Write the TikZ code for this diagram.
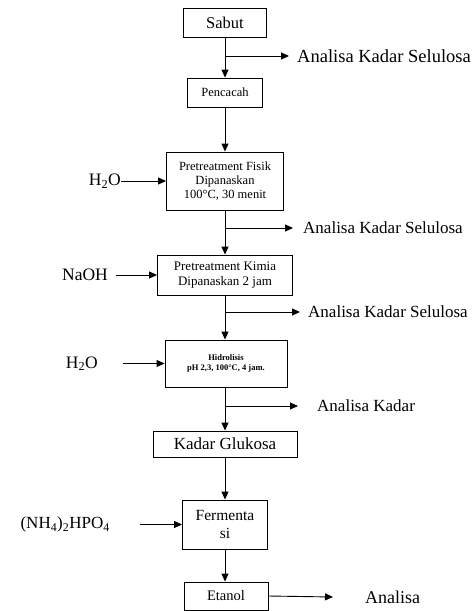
\documentclass[tikz,border=0pt]{standalone}
\usepackage{fontspec}
\setmainfont{Liberation Serif}
\usetikzlibrary{arrows.meta,calc}
\newcommand{\fs}[2]{\fontsize{#1}{#2}\selectfont}
\begin{document}
\begin{tikzpicture}[x=1pt,y=-1pt,
  box/.style={draw, line width=0.9pt, inner sep=0pt, align=center},
  arr/.style={line width=0.9pt, -{Triangle[length=8pt,width=7pt]}},
  lab/.style={anchor=west, inner ysep=0pt},
  inp/.style={anchor=east, inner sep=0pt}]
\useasboundingbox (0,0) rectangle (474,611);
\fill[white] (0,0) rectangle (474,611);

% boxes
\node[box, minimum width=83, minimum height=29, font=\fs{16.5}{18}] (sabut) at (225,22.5) {Sabut};
\node[box, minimum width=75, minimum height=29, font=\fs{12.5}{14}] (pencacah) at (225,92.5) {Pencacah};
\node[box, minimum width=117, minimum height=58, font=\fs{12.5}{14}] (fisik) at (225,181) {Pretreatment Fisik\\Dipanaskan\\100\textdegree C, 30 menit};
\node[box, minimum width=135, minimum height=40, font=\fs{13}{15}] (kimia) at (225,275) {Pretreatment Kimia\\Dipanaskan 2 jam};
\node[box, minimum width=122, minimum height=47, font=\fs{8.5}{9.5}\bfseries] (hidro) at (226,363.5) {Hidrolisis\\pH 2,3, 100\textdegree C, 4 jam.};
\node[box, minimum width=144, minimum height=26, font=\fs{17}{19}] (gluk) at (225,444) {Kadar Glukosa};
\node[box, minimum width=85, minimum height=49, font=\fs{15.5}{18}] (ferm) at (225,524.5) {Fermenta\\si};
\node[box, minimum width=84, minimum height=28, font=\fs{14.5}{16}] (etanol) at (226,596) {Etanol};

% main flow
\draw[arr] (sabut.south -| 225,0) -- (pencacah.north -| 225,0);
\draw[arr] (pencacah.south -| 225,0) -- (fisik.north -| 225,0);
\draw[arr] (fisik.south -| 225,0) -- (kimia.north -| 225,0);
\draw[arr] (kimia.south -| 225,0) -- (hidro.north -| 225,0);
\draw[arr] (hidro.south -| 225,0) -- (gluk.north -| 225,0);
\draw[arr] (gluk.south -| 225,0) -- (ferm.north -| 225,0);
\draw[arr] (ferm.south -| 225,0) -- (etanol.north -| 225,0);

% branch points
\coordinate (b1) at (225,56);
\coordinate (b2) at (225,228);
\coordinate (b3) at (225,312);
\coordinate (b4) at (225,406);

% analysis labels
\node[lab, inner xsep=8pt, font=\fs{18.5}{20}] (an1) at (289,56) {Analisa Kadar Selulosa};
\node[lab, inner xsep=10pt, font=\fs{17}{19}] (an2) at (293,228) {Analisa Kadar Selulosa};
\node[lab, inner xsep=8pt, font=\fs{17}{19}] (an3) at (300,312) {Analisa Kadar Selulosa};
\node[lab, inner xsep=19pt, font=\fs{17}{19}] (an4) at (298,406) {Analisa Kadar};
\node[lab, inner xsep=32pt, font=\fs{18}{20}] (an5) at (333,597) {Analisa};

\draw[arr] (b1) -- (an1.west);
\draw[arr] (b2) -- (an2.west);
\draw[arr] (b3) -- (an3.west);
\draw[arr] (b4) -- (an4.west);
\draw[arr] (etanol.east) -- (an5.west);

% inputs
\node[inp, font=\fs{17.5}{19}] (h2oa) at (121,181) {H\textsubscript{2}O};
\node[inp, font=\fs{17.5}{19}] (naoh) at (108,275) {NaOH};
\node[inp, font=\fs{17.5}{19}] (h2ob) at (98,363.5) {H\textsubscript{2}O};
\node[inp, font=\fs{17}{19}] (nh) at (110,524.5) {(NH\textsubscript{4})\textsubscript{2}HPO\textsubscript{4}};

\draw[arr] (h2oa.east) -- (fisik.west);
\draw[arr] ([xshift=8pt]naoh.east) -- (kimia.west);
\draw[arr] ([xshift=25pt]h2ob.east) -- (hidro.west);
\draw[arr] ([xshift=30pt]nh.east) -- (ferm.west);
\end{tikzpicture}
\end{document}
